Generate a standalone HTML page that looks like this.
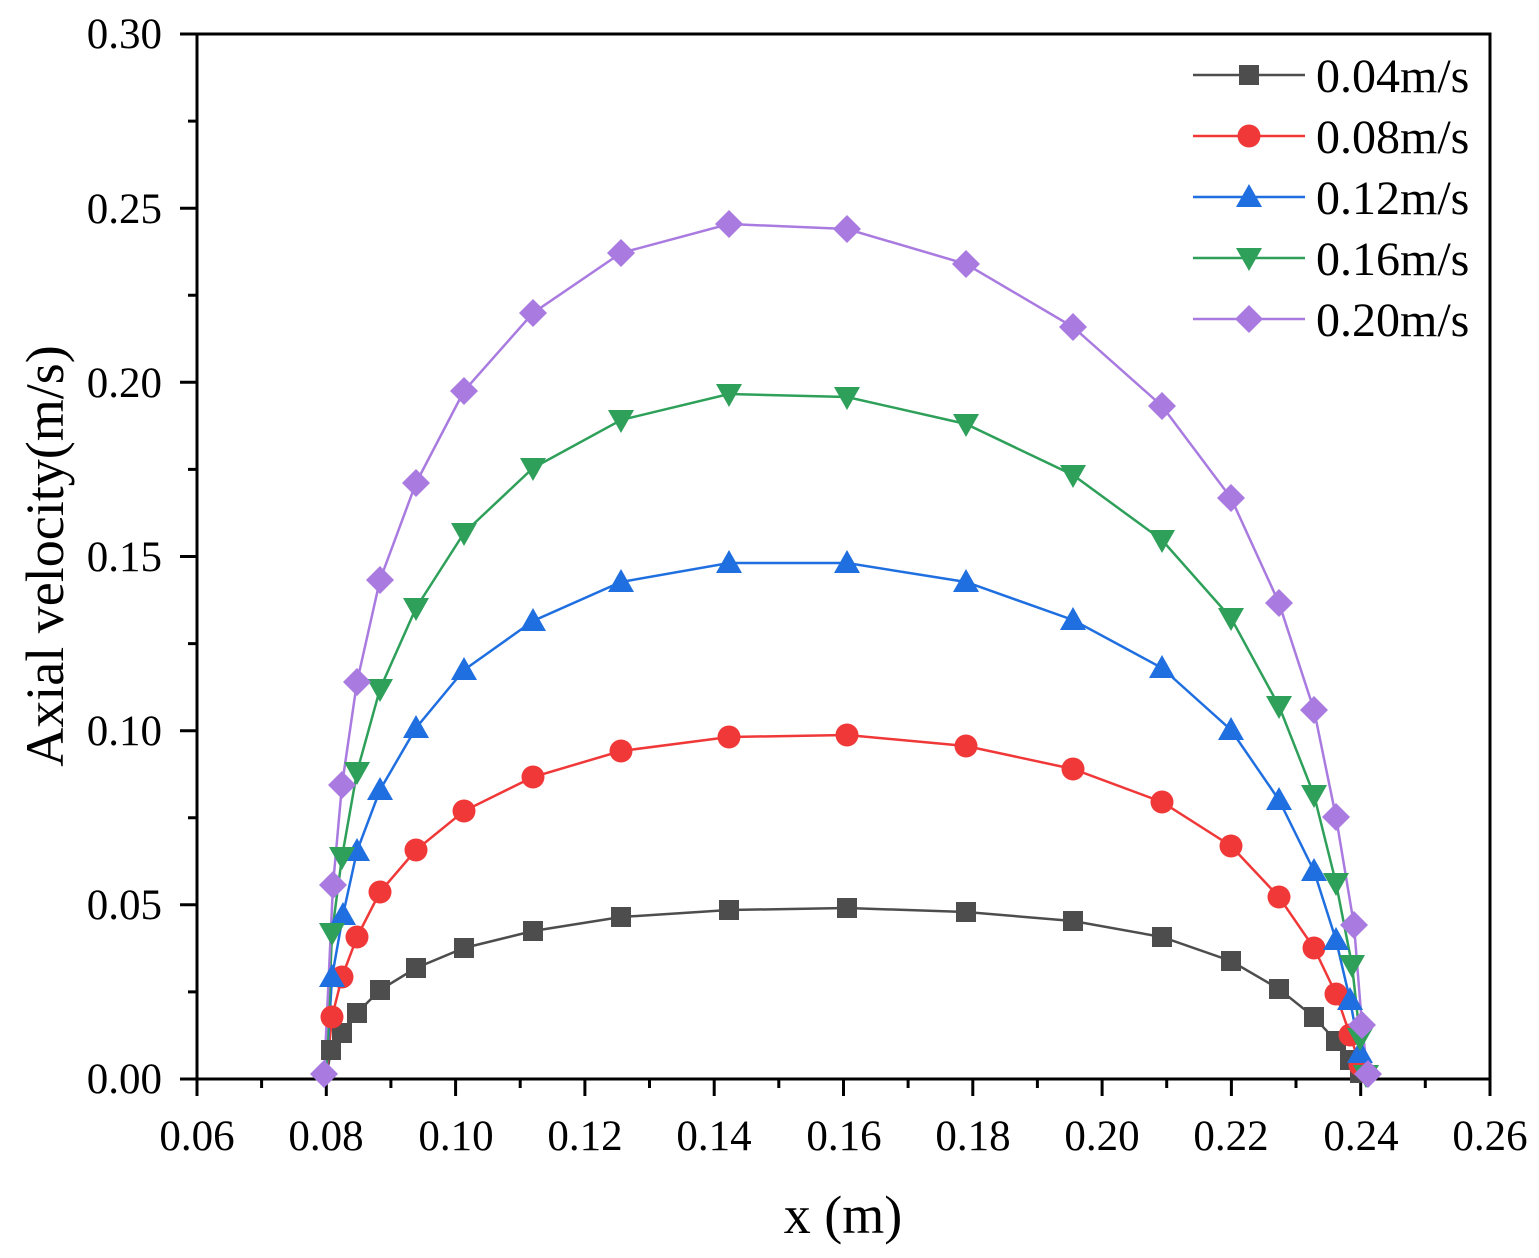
<!DOCTYPE html>
<html><head><meta charset="utf-8"><style>
html,body{margin:0;padding:0;background:#fff;}
svg{display:block;}
text{font-family:"Liberation Serif",serif;fill:#000;}
</style></head><body>
<svg width="1539" height="1258" viewBox="0 0 1539 1258" xmlns="http://www.w3.org/2000/svg">
<defs>
<rect id="sq" x="-10" y="-10" width="20" height="20" fill="#4d4d4d"/>
<circle id="ci" r="11.5" fill="#f03838"/>
<polygon id="tu" points="0,-13 13,10 -13,10" fill="#1f6fe0"/>
<polygon id="td" points="0,13 13,-10 -13,-10" fill="#2ea05a"/>
<polygon id="di" points="0,-14 14,0 0,14 -14,0" fill="#a97be0"/>
</defs>
<g stroke="#000" stroke-width="3" fill="none">
<rect x="197" y="34" width="1293" height="1045"/>
<path d="M197,1079v17 M326.3,1079v17 M455.6,1079v17 M584.9,1079v17 M714.2,1079v17 M843.5,1079v17 M972.8,1079v17 M1102.1,1079v17 M1231.4,1079v17 M1360.7,1079v17 M1490,1079v17"/>
<path d="M261.6,1079v9 M390.9,1079v9 M520.2,1079v9 M649.5,1079v9 M778.8,1079v9 M908.1,1079v9 M1037.4,1079v9 M1166.7,1079v9 M1296,1079v9 M1425.3,1079v9"/>
<path d="M197,1079h-17 M197,904.8h-17 M197,730.7h-17 M197,556.5h-17 M197,382.3h-17 M197,208.2h-17 M197,34h-17"/>
<path d="M197,991.9h-9 M197,817.7h-9 M197,643.6h-9 M197,469.4h-9 M197,295.3h-9 M197,121.1h-9"/>
</g>
<g font-size="43" text-anchor="middle">
<text x="197" y="1150">0.06</text><text x="326" y="1150">0.08</text><text x="456" y="1150">0.10</text><text x="585" y="1150">0.12</text><text x="714" y="1150">0.14</text><text x="844" y="1150">0.16</text><text x="973" y="1150">0.18</text><text x="1102" y="1150">0.20</text><text x="1231" y="1150">0.22</text><text x="1361" y="1150">0.24</text><text x="1490" y="1150">0.26</text>
</g>
<g font-size="43" text-anchor="end">
<text x="162" y="1093">0.00</text><text x="162" y="919">0.05</text><text x="162" y="745">0.10</text><text x="162" y="571">0.15</text><text x="162" y="397">0.20</text><text x="162" y="223">0.25</text><text x="162" y="48">0.30</text>
</g>
<text x="843" y="1233" font-size="54" text-anchor="middle">x (m)</text>
<text transform="translate(63,556) rotate(-90)" font-size="54" text-anchor="middle">Axial velocity(m/s)</text>
<g fill="none" stroke-width="2.5">
<polyline stroke="#4d4d4d" points="326,1078 331,1050 342,1033 357,1013 380,990 416,968 464,948 533,931 621,917 729,910 847,908 966,912 1073,921 1162,937 1231,961 1279,989 1314,1017 1336,1041 1350,1060 1360,1073"/>
<polyline stroke="#f03838" points="326,1078 332,1017 342,977 357,937 380,892 416,850 464,811 533,777 621,751 729,737 847,735 966,746 1073,769 1162,802 1231,846 1279,897 1314,948 1336,994 1350,1035 1360,1065"/>
<polyline stroke="#1f6fe0" points="326,1078 332,977 343,915 357,851 380,790 416,728 464,670 533,621 621,582 729,563 847,563 966,582 1073,620 1162,668 1231,730 1279,800 1314,871 1336,940 1350,1000 1360,1053 1364,1078"/>
<polyline stroke="#2ea05a" points="326,1078 332,933 342,857 357,772 380,689 416,608 464,533 533,468 621,420 729,394 847,397 966,424 1073,475 1162,540 1231,618 1279,706 1314,795 1336,883 1352,965 1360,1038 1366,1078"/>
<polyline stroke="#a97be0" points="324,1078 333,885 342,785 357,682 380,580 416,483 464,391 533,313 621,253 729,224 847,229 966,264 1073,327 1162,406 1231,498 1279,603 1314,710 1336,817 1354,925 1362,1025 1368,1078"/>
</g>
<g>
<use href="#sq" x="331" y="1050"/><use href="#sq" x="342" y="1033"/><use href="#sq" x="357" y="1013"/><use href="#sq" x="380" y="990"/><use href="#sq" x="416" y="968"/><use href="#sq" x="464" y="948"/><use href="#sq" x="533" y="931"/><use href="#sq" x="621" y="917"/><use href="#sq" x="729" y="910"/><use href="#sq" x="847" y="908"/><use href="#sq" x="966" y="912"/><use href="#sq" x="1073" y="921"/><use href="#sq" x="1162" y="937"/><use href="#sq" x="1231" y="961"/><use href="#sq" x="1279" y="989"/><use href="#sq" x="1314" y="1017"/><use href="#sq" x="1336" y="1041"/><use href="#sq" x="1350" y="1060"/><use href="#sq" x="1360" y="1073"/>
<use href="#ci" x="332" y="1017"/><use href="#ci" x="342" y="977"/><use href="#ci" x="357" y="937"/><use href="#ci" x="380" y="892"/><use href="#ci" x="416" y="850"/><use href="#ci" x="464" y="811"/><use href="#ci" x="533" y="777"/><use href="#ci" x="621" y="751"/><use href="#ci" x="729" y="737"/><use href="#ci" x="847" y="735"/><use href="#ci" x="966" y="746"/><use href="#ci" x="1073" y="769"/><use href="#ci" x="1162" y="802"/><use href="#ci" x="1231" y="846"/><use href="#ci" x="1279" y="897"/><use href="#ci" x="1314" y="948"/><use href="#ci" x="1336" y="994"/><use href="#ci" x="1350" y="1035"/><use href="#ci" x="1360" y="1065"/>
<use href="#tu" x="332" y="977"/><use href="#tu" x="343" y="915"/><use href="#tu" x="357" y="851"/><use href="#tu" x="380" y="790"/><use href="#tu" x="416" y="728"/><use href="#tu" x="464" y="670"/><use href="#tu" x="533" y="621"/><use href="#tu" x="621" y="582"/><use href="#tu" x="729" y="563"/><use href="#tu" x="847" y="563"/><use href="#tu" x="966" y="582"/><use href="#tu" x="1073" y="620"/><use href="#tu" x="1162" y="668"/><use href="#tu" x="1231" y="730"/><use href="#tu" x="1279" y="800"/><use href="#tu" x="1314" y="871"/><use href="#tu" x="1336" y="940"/><use href="#tu" x="1350" y="1000"/><use href="#tu" x="1360" y="1053"/>
<use href="#td" x="332" y="933"/><use href="#td" x="342" y="857"/><use href="#td" x="357" y="772"/><use href="#td" x="380" y="689"/><use href="#td" x="416" y="608"/><use href="#td" x="464" y="533"/><use href="#td" x="533" y="468"/><use href="#td" x="621" y="420"/><use href="#td" x="729" y="394"/><use href="#td" x="847" y="397"/><use href="#td" x="966" y="424"/><use href="#td" x="1073" y="475"/><use href="#td" x="1162" y="540"/><use href="#td" x="1231" y="618"/><use href="#td" x="1279" y="706"/><use href="#td" x="1314" y="795"/><use href="#td" x="1336" y="883"/><use href="#td" x="1352" y="965"/><use href="#td" x="1360" y="1038"/><use href="#td" x="1366" y="1075"/>
<use href="#di" x="333" y="885"/><use href="#di" x="342" y="785"/><use href="#di" x="357" y="682"/><use href="#di" x="380" y="580"/><use href="#di" x="416" y="483"/><use href="#di" x="464" y="391"/><use href="#di" x="533" y="313"/><use href="#di" x="621" y="253"/><use href="#di" x="729" y="224"/><use href="#di" x="847" y="229"/><use href="#di" x="966" y="264"/><use href="#di" x="1073" y="327"/><use href="#di" x="1162" y="406"/><use href="#di" x="1231" y="498"/><use href="#di" x="1279" y="603"/><use href="#di" x="1314" y="710"/><use href="#di" x="1336" y="817"/><use href="#di" x="1354" y="925"/><use href="#di" x="1362" y="1025"/><use href="#di" x="1368" y="1074"/><use href="#di" x="324" y="1074"/>
</g>
<g stroke-width="2.5">
<line x1="1193" y1="75" x2="1305" y2="75" stroke="#4d4d4d"/><use href="#sq" x="1249" y="75"/>
<line x1="1193" y1="136" x2="1305" y2="136" stroke="#f03838"/><use href="#ci" x="1249" y="136"/>
<line x1="1193" y1="197" x2="1305" y2="197" stroke="#1f6fe0"/><use href="#tu" x="1249" y="197"/>
<line x1="1193" y1="258" x2="1305" y2="258" stroke="#2ea05a"/><use href="#td" x="1249" y="258"/>
<line x1="1193" y1="319" x2="1305" y2="319" stroke="#a97be0"/><use href="#di" x="1249" y="319"/>
</g>
<g font-size="48">
<text x="1316" y="92">0.04m/s</text><text x="1316" y="153">0.08m/s</text><text x="1316" y="214">0.12m/s</text><text x="1316" y="275">0.16m/s</text><text x="1316" y="336">0.20m/s</text>
</g>
</svg>
</body></html>
